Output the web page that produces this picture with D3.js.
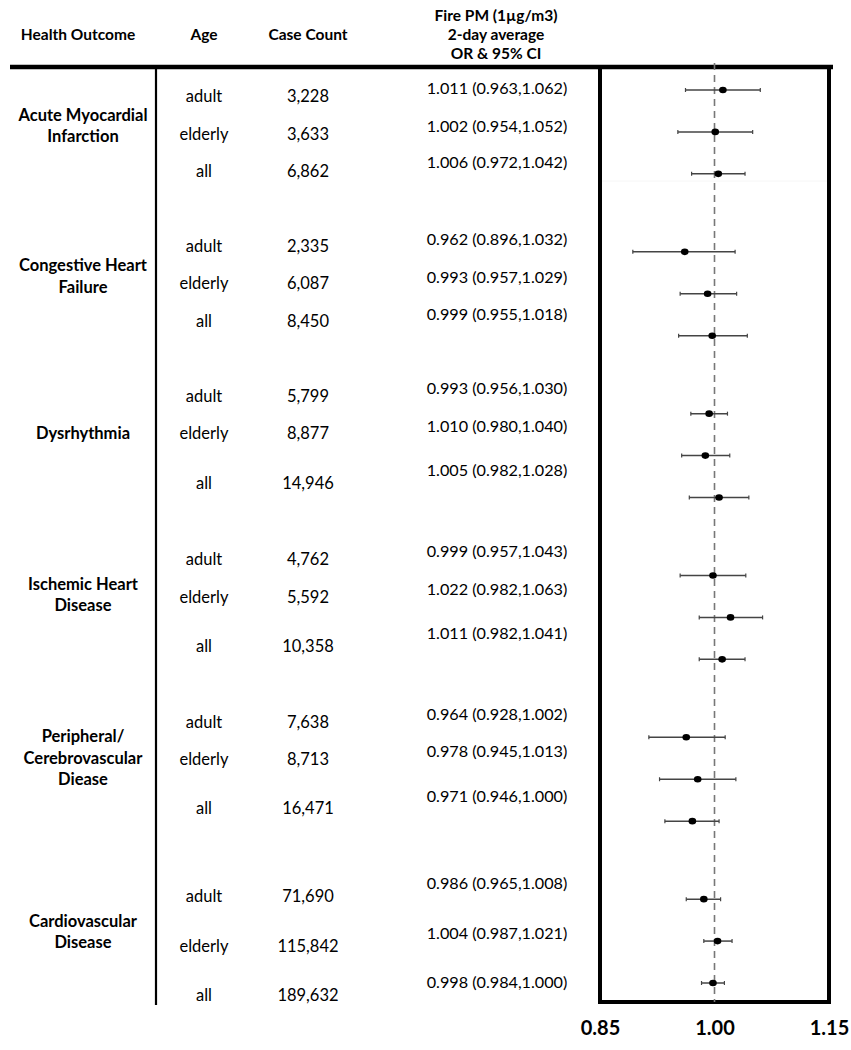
<!DOCTYPE html>
<html>
<head>
<meta charset="utf-8">
<script src="https://cdn.jsdelivr.net/npm/d3@7"></script>
<style>
  body { margin: 0; background: #fff; }
  text { font-family: Lato, "Open Sans", sans-serif; fill: #000; }
</style>
</head>
<body>
<svg id="chart" width="851" height="1050"></svg>
<script>
// data
const outcomes = [
  ["Acute Myocardial", "Infarction"],
  ["Congestive Heart", "Failure"],
  ["Dysrhythmia"],
  ["Ischemic Heart", "Disease"],
  ["Peripheral/", "Cerebrovascular", "Diease"],
  ["Cardiovascular", "Disease"]
];
const ages = ["adult", "elderly", "all"];
const caseCounts = [
  "3,228", "3,633", "6,862",
  "2,335", "6,087", "8,450",
  "5,799", "8,877", "14,946",
  "4,762", "5,592", "10,358",
  "7,638", "8,713", "16,471",
  "71,690", "115,842", "189,632"
];
const orLabels = [
  "1.011 (0.963,1.062)", "1.002 (0.954,1.052)", "1.006 (0.972,1.042)",
  "0.962 (0.896,1.032)", "0.993 (0.957,1.029)", "0.999 (0.955,1.018)",
  "0.993 (0.956,1.030)", "1.010 (0.980,1.040)", "1.005 (0.982,1.028)",
  "0.999 (0.957,1.043)", "1.022 (0.982,1.063)", "1.011 (0.982,1.041)",
  "0.964 (0.928,1.002)", "0.978 (0.945,1.013)", "0.971 (0.946,1.000)",
  "0.986 (0.965,1.008)", "1.004 (0.987,1.021)", "0.998 (0.984,1.000)"
];
// values as plotted in the forest panel
const orValues = [1.011, 1.001, 1.005, 0.961, 0.991, 0.997, 0.993, 0.988, 1.006, 0.998, 1.021, 1.010, 0.963, 0.978, 0.971, 0.986, 1.004, 0.998];
const ciLower  = [0.962, 0.952, 0.970, 0.893, 0.955, 0.953, 0.969, 0.957, 0.967, 0.955, 0.980, 0.980, 0.914, 0.928, 0.935, 0.963, 0.986, 0.983];
const ciUpper  = [1.060, 1.050, 1.040, 1.027, 1.029, 1.043, 1.017, 1.020, 1.045, 1.041, 1.063, 1.040, 1.014, 1.028, 1.006, 1.008, 1.023, 1.013];
const xTicks = [0.85, 1.00, 1.15];
const headers = [
  { lines: ["Health Outcome"], x: 78 },
  { lines: ["Age"], x: 204 },
  { lines: ["Case Count"], x: 308 },
  { lines: ["Fire PM (1\u00b5g/m3)", "2-day average", "OR & 95% CI"], x: 496 }
];

// layout of the hand-made table rows
const ageRowY = [96, 134, 171, 246, 283, 321, 396, 433, 483, 559, 597, 646, 722, 759, 808, 896, 946, 995];
const ciRowY  = [88, 126, 162, 239, 277, 314, 388, 426, 470, 551, 589, 633, 714, 751, 796, 883, 933, 982];
const groupMidY = [125.5, 276, 433, 594.5, 758, 931.5];
const groupStep = 3.86; // spacing of outcome groups in the forest panel, in row units

const svg = d3.select("#chart");

const x = d3.scaleLinear().domain([0.85, 1.15]).range([600, 829]);
const yPlot = d3.scaleLinear()
  .domain([0, 5 * groupStep + 2])
  .range([90, 983]);

const rows = caseCounts.map(function(c, i) {
  const g = Math.floor(i / 3), r = i % 3;
  return {
    g: g, age: ages[r], count: c, label: orLabels[i],
    or: orValues[i], lo: ciLower[i], hi: ciUpper[i],
    pos: g * groupStep + r
  };
});

// headers
headers.forEach(function(h) {
  const t = svg.append("text")
    .attr("text-anchor", "middle")
    .attr("font-weight", "bold")
    .attr("font-size", 15.5);
  const y0 = h.lines.length === 1 ? 35 : 16;
  h.lines.forEach(function(l, k) {
    t.append("tspan").attr("x", h.x).attr("y", y0 + k * 19).attr("dy", "0.35em").text(l);
  });
});

// frame
const boxTop = 67, boxBottom = 1002;
svg.append("line")
  .attr("x1", 10).attr("x2", 833)
  .attr("y1", boxTop).attr("y2", boxTop)
  .attr("stroke", "#000").attr("stroke-width", 4.5);
svg.append("line")
  .attr("x1", 156).attr("x2", 156)
  .attr("y1", boxTop).attr("y2", 1005)
  .attr("stroke", "#000").attr("stroke-width", 2.2);
svg.append("rect")
  .attr("x", x(0.85)).attr("y", boxTop)
  .attr("width", x(1.15) - x(0.85)).attr("height", boxBottom - boxTop)
  .attr("fill", "none").attr("stroke", "#000").attr("stroke-width", 4);
svg.append("line")
  .attr("x1", x(0.85) + 2).attr("x2", x(1.15) - 2)
  .attr("y1", 181).attr("y2", 181)
  .attr("stroke", "#f6f6f6").attr("stroke-width", 1);

// reference line
svg.append("line")
  .attr("x1", x(1)).attr("x2", x(1))
  .attr("y1", boxTop - 4).attr("y2", boxBottom)
  .attr("stroke", "#777").attr("stroke-width", 1.6)
  .attr("stroke-dasharray", "7,5");

// group labels
outcomes.forEach(function(lines, g) {
  const t = svg.append("text")
    .attr("text-anchor", "middle")
    .attr("font-weight", "bold")
    .attr("font-size", 16.5);
  const y0 = groupMidY[g] - (lines.length - 1) * 21.5 / 2;
  lines.forEach(function(l, k) {
    t.append("tspan").attr("x", 83).attr("y", y0 + k * 21.5).attr("dy", "0.35em").text(l);
  });
});

// table columns
svg.selectAll(".age").data(rows).enter().append("text")
  .attr("class", "age")
  .attr("x", 204).attr("y", function(d, i) { return ageRowY[i]; })
  .attr("dy", "0.35em").attr("text-anchor", "middle").attr("font-size", 16.5)
  .text(function(d) { return d.age; });

svg.selectAll(".count").data(rows).enter().append("text")
  .attr("class", "count")
  .attr("x", 308).attr("y", function(d, i) { return ageRowY[i]; })
  .attr("dy", "0.35em").attr("text-anchor", "middle").attr("font-size", 16.5)
  .text(function(d) { return d.count; });

svg.selectAll(".ci").data(rows).enter().append("text")
  .attr("class", "ci")
  .attr("x", 497).attr("y", function(d, i) { return ciRowY[i]; })
  .attr("dy", "0.35em").attr("text-anchor", "middle").attr("font-size", 16.2)
  .text(function(d) { return d.label; });

// forest marks
let bar = svg.selectAll(".est").data(rows).enter().append("g")
  .attr("class", "est")
  .attr("transform", function(d) { return "translate(0," + yPlot(d.pos) + ")"; });

bar.append("line")
  .attr("x1", function(d) { return x(d.lo); })
  .attr("x2", function(d) { return x(d.hi); })
  .attr("stroke", "#444").attr("stroke-width", 1.5);

bar.append("line")
  .attr("x1", function(d) { return x(d.lo); })
  .attr("x2", function(d) { return x(d.lo); })
  .attr("y1", -2).attr("y2", 2)
  .attr("stroke", "#444").attr("stroke-width", 1.2);

bar.append("line")
  .attr("x1", function(d) { return x(d.hi); })
  .attr("x2", function(d) { return x(d.hi); })
  .attr("y1", -2).attr("y2", 2)
  .attr("stroke", "#444").attr("stroke-width", 1.2);

bar.append("ellipse")
  .attr("cx", function(d) { return x(d.or); })
  .attr("rx", 3.8).attr("ry", 3.3)
  .attr("fill", "#000");

// axis labels
const axis = d3.axisBottom(x)
  .tickValues(xTicks)
  .tickFormat(d3.format(".2f"))
  .tickSize(0)
  .tickPadding(0);

const ax = svg.append("g")
  .attr("transform", "translate(0,1021)")
  .call(axis);
ax.select(".domain").remove();
ax.selectAll("text")
  .attr("font-size", 20)
  .attr("font-weight", "bold")
  .attr("fill", "#000")
  .style("font-family", "Lato, sans-serif");
</script>
</body>
</html>
